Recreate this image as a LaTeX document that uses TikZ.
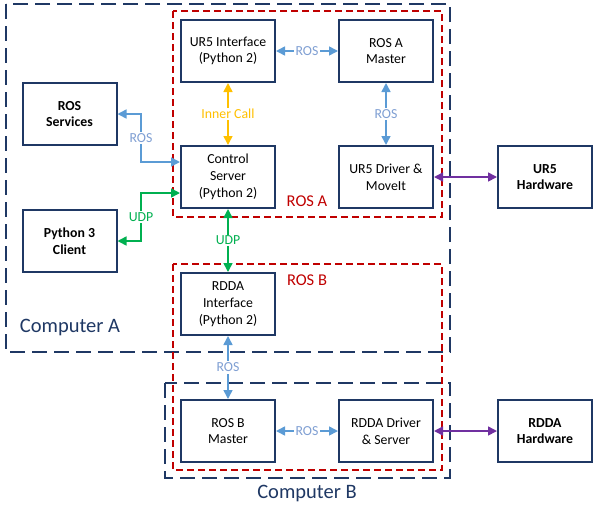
\documentclass[tikz,border=0pt]{standalone}
\usepackage{fontspec}
\setmainfont{Carlito}
\usetikzlibrary{arrows.meta,calc}
\definecolor{navy}{HTML}{1F3864}
\definecolor{rosblue}{HTML}{5B9BD5}
\definecolor{roslbl}{HTML}{7F9FD3}
\definecolor{inorange}{HTML}{FFC000}
\definecolor{udpgreen}{HTML}{00B050}
\definecolor{hwpurple}{HTML}{7030A0}
\definecolor{rosred}{HTML}{C00000}
\tikzset{
  box/.style={draw=navy, line width=2pt, fill=white, minimum width=94pt, minimum height=62pt, inner sep=0pt, align=center, font=\fontsize{13.8}{16.7}\selectfont, text=black},
  bbox/.style={box, font=\fontsize{13.8}{16.7}\selectfont\bfseries},
  comp/.style={draw=navy, line width=2pt, dash pattern=on 15pt off 7pt},
  rosgrp/.style={draw=rosred, line width=1.8pt, dash pattern=on 7pt off 4pt},
  conn/.style={line width=1.6pt, {Triangle[length=9pt,width=9pt]}-{Triangle[length=9pt,width=9pt]}},
  ros/.style={conn, draw=rosblue},
  inner/.style={conn, draw=inorange},
  udp/.style={conn, draw=udpgreen},
  hw/.style={conn, draw=hwpurple},
  lbl/.style={fill=white, inner sep=1.5pt, font=\fontsize{13.8}{16}\selectfont},
  grplbl/.style={font=\fontsize{16.5}{19}\selectfont, text=rosred, inner sep=0pt},
  complbl/.style={font=\fontsize{20.5}{24}\selectfont, text=navy, inner sep=0pt},
}
\begin{document}
\begin{tikzpicture}[x=1pt,y=-1pt]
\useasboundingbox (0,0) rectangle (599,512);
% containers
\draw[comp] (6,4) rectangle (450,352);
\draw[comp] (165,383) rectangle (450,478);
\draw[rosgrp] (173,11) rectangle (442,217);
\draw[rosgrp] (173,264) rectangle (442,470);
\node[grplbl] (rosAlbl) at (307,201) {ROS A};
\node[grplbl] (rosBlbl) at (307,280) {ROS B};
\node[complbl] (compA) at (70,327) {Computer A};
\node[complbl] (compB) at (307,493) {Computer B};
% boxes
\node[box] (ui) at (228,51) {UR5 Interface\\(Python 2)};
\node[box] (am) at (386,51) {ROS A\\Master};
\node[bbox] (svc) at (69.5,114) {ROS\\Services};
\node[box] (cs) at (228,177) {Control\\Server\\(Python 2)};
\node[box] (drv) at (386,177) {UR5 Driver \&\\MoveIt};
\node[bbox] (urhw) at (545,177) {UR5\\Hardware};
\node[bbox] (py) at (69.5,241) {Python 3\\Client};
\node[box] (ri) at (228,304) {RDDA\\Interface\\(Python 2)};
\node[box] (bm) at (228,431) {ROS B\\Master};
\node[box] (rd) at (386,431) {RDDA Driver\\\& Server};
\node[bbox] (rhw) at (545,431) {RDDA\\Hardware};
% connectors
\draw[ros] (ui.east) -- node[lbl, text=roslbl] (l1) {ROS} (am.west);
\draw[inner] (ui.south) -- node[lbl, text=inorange] (l2) {Inner Call} (cs.north);
\draw[ros] (am.south) -- node[lbl, text=roslbl] (l3) {ROS} (drv.north);
\coordinate (s1) at (141,114);
\coordinate (s2) at (141,162);
\draw[ros] (svc.east) -- (s1) -- node[lbl, text=roslbl] (l4) {ROS} (s2) -- ($(cs.west)+(0,-15)$);
\coordinate (p1) at (141,241);
\coordinate (p2) at (141,193);
\draw[udp] (py.east) -- (p1) -- node[lbl, text=udpgreen] (l5) {UDP} (p2) -- ($(cs.west)+(0,16)$);
\draw[udp] (cs.south) -- node[lbl, text=udpgreen] (l6) {UDP} (ri.north);
\draw[hw] (drv.east) -- (urhw.west);
\draw[ros] (ri.south) -- node[lbl, text=roslbl] (l7) {ROS} (bm.north);
\draw[ros] (bm.east) -- node[lbl, text=roslbl] (l8) {ROS} (rd.west);
\draw[hw] (rd.east) -- (rhw.west);
\end{tikzpicture}
\end{document}
